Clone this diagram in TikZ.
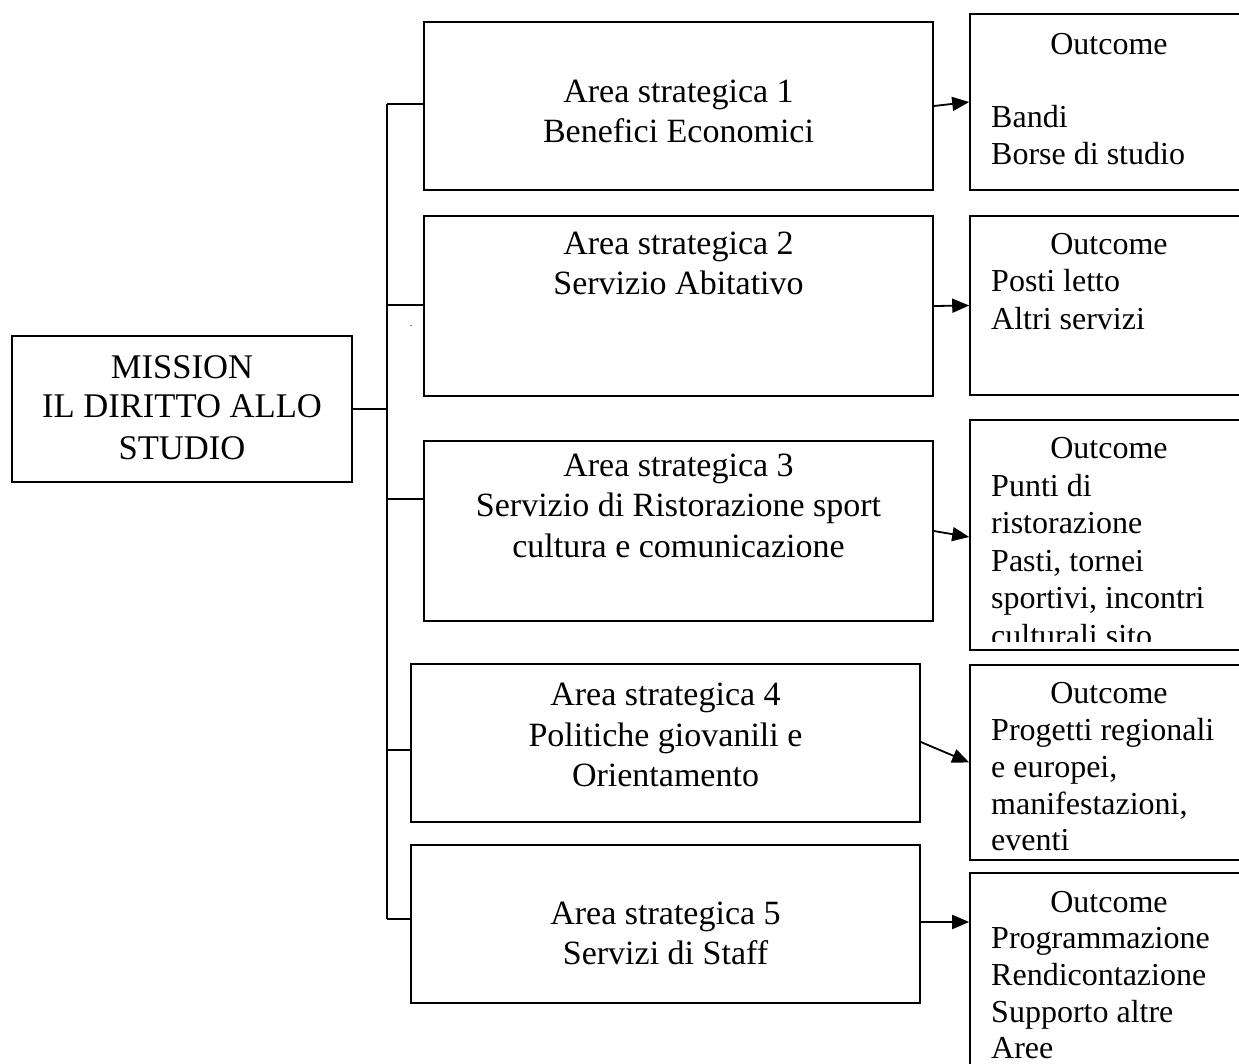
\documentclass[tikz,border=0pt]{standalone}
\usepackage{fontspec}
\setmainfont{Liberation Serif}
\usetikzlibrary{arrows.meta,calc}
\begin{document}
\begin{tikzpicture}[x=1pt,y=-1pt,
  box/.style={draw, line width=1.6pt, inner sep=0pt, rectangle},
  big/.style={font=\fontsize{34}{40}\selectfont, anchor=base, inner sep=0pt},
  bigm/.style={font=\fontsize{34.6}{40}\selectfont, anchor=base, inner sep=0pt},
  small/.style={font=\fontsize{32}{37}\selectfont, anchor=base west, inner sep=0pt},
  smallc/.style={font=\fontsize{32}{37}\selectfont, anchor=base, inner sep=0pt},
  lnk/.style={line width=1.6pt},
  arr/.style={line width=1.8pt, -{Triangle[length=17pt,width=14pt]}}]
\useasboundingbox (0,0) rectangle (1239,1064);
\clip (0,0) rectangle (1239,1064);

% mission
\node[box, minimum width=340pt, minimum height=146pt] (m) at (182,409) {};
\node[bigm] (m1) at (182,378) {MISSION};
\node[bigm] (m2) at (182,417) {IL DIRITTO ALLO};
\node[bigm] (m3) at (182,459) {STUDIO};

% area boxes
\node[box, minimum width=509pt, minimum height=168pt] (b1) at (678.5,106) {};
\node[box, minimum width=509pt, minimum height=180pt] (b2) at (678.5,306) {};
\node[box, minimum width=509pt, minimum height=180pt] (b3) at (678.5,531) {};
\node[box, minimum width=509pt, minimum height=158pt] (b4) at (665.5,743) {};
\node[box, minimum width=509pt, minimum height=158pt] (b5) at (665.5,924) {};

\node[big] (b1a) at (678.5,103) {Area strategica 1};
\node[big] (b1b) at (678.5,143) {Benefici Economici};
\node[big] (b2a) at (678.5,255) {Area strategica 2};
\node[big] (b2b) at (678.5,295) {Servizio Abitativo};
\node[big] (b3a) at (678.5,476) {Area strategica 3};
\node[big] (b3b) at (678.5,516) {Servizio di Ristorazione sport};
\node[big] (b3c) at (678.5,557) {cultura e comunicazione};
\node[big] (b4a) at (665.5,705) {Area strategica 4};
\node[big] (b4b) at (665.5,746) {Politiche giovanili e};
\node[big] (b4c) at (665.5,786) {Orientamento};
\node[big] (b5a) at (665.5,924) {Area strategica 5};
\node[big] (b5b) at (665.5,964) {Servizi di Staff};

\node[font=\fontsize{10}{12}\selectfont, inner sep=0pt] (dot) at (411,326) {.};

% outcome boxes
\node[box, minimum width=290pt, minimum height=176pt] (o1) at (1115,102) {};
\node[box, minimum width=290pt, minimum height=179pt] (o2) at (1115,305.5) {};
\node[box, minimum width=290pt, minimum height=230pt] (o3) at (1115,535) {};
\node[box, minimum width=290pt, minimum height=195pt] (o4) at (1115,762.5) {};
\node[box, minimum width=290pt, minimum height=240pt] (o5) at (1115,993) {};

\node[smallc] (o1t) at (1109,55) {Outcome};
\node[small] (o1a) at (991,128) {Bandi};
\node[small] (o1b) at (991,165) {Borse di studio};

\node[smallc] (o2t) at (1109,255) {Outcome};
\node[small] (o2a) at (991,292) {Posti letto};
\node[small] (o2b) at (991,330) {Altri servizi};

\begin{scope}
\clip (960,420) rectangle (1239,641);
\node[smallc] (o3t) at (1109,458) {Outcome};
\node[small] (o3a) at (991,496) {Punti di};
\node[small] (o3b) at (991,533) {ristorazione};
\node[small] (o3c) at (991,571) {Pasti, tornei};
\node[small] (o3d) at (991,608) {sportivi, incontri};
\node[small] (o3e) at (991,646) {culturali sito};
\end{scope}

\node[smallc] (o4t) at (1109,703) {Outcome};
\node[small] (o4a) at (991,740) {Progetti regionali};
\node[small] (o4b) at (991,777) {e europei,};
\node[small] (o4c) at (991,814) {manifestazioni,};
\node[small] (o4d) at (991,850) {eventi};

\node[smallc] (o5t) at (1109,912) {Outcome};
\node[small] (o5a) at (991,948) {Programmazione};
\node[small] (o5b) at (991,985) {Rendicontazione};
\node[small] (o5c) at (991,1022) {Supporto altre};
\node[small] (o5d) at (991,1058) {Aree};

% tree connectors
\coordinate (t1) at (387,104);
\coordinate (t2) at (387,305);
\coordinate (t3) at (387,499);
\coordinate (t4) at (387,750);
\coordinate (t5) at (387,919);
\draw[lnk] (m.east) -- (m.east -| t1);
\draw[lnk] (t1) -- (t5);
\draw[lnk] (t1) -- (t1 -| b1.west);
\draw[lnk] (t2) -- (t2 -| b2.west);
\draw[lnk] (t3) -- (t3 -| b3.west);
\draw[lnk] (t4) -- (t4 -| b4.west);
\draw[lnk] (t5) -- ($(t5 -| b5.west)+(2,0)$);

% arrows
\draw[arr] (b1.east) -- (o1.west);
\draw[arr] (b2.east) -- (o2.west);
\draw[arr] (b3.east) -- ($(o3.west)+(0,2)$);
\draw[arr] ($(b4.east)+(0,-1)$) -- (o4.west);
\draw[arr] ($(b5.east)+(0,-2)$) -- ($(b5.east -| o5.west)+(0,-2)$);
\end{tikzpicture}
\end{document}
